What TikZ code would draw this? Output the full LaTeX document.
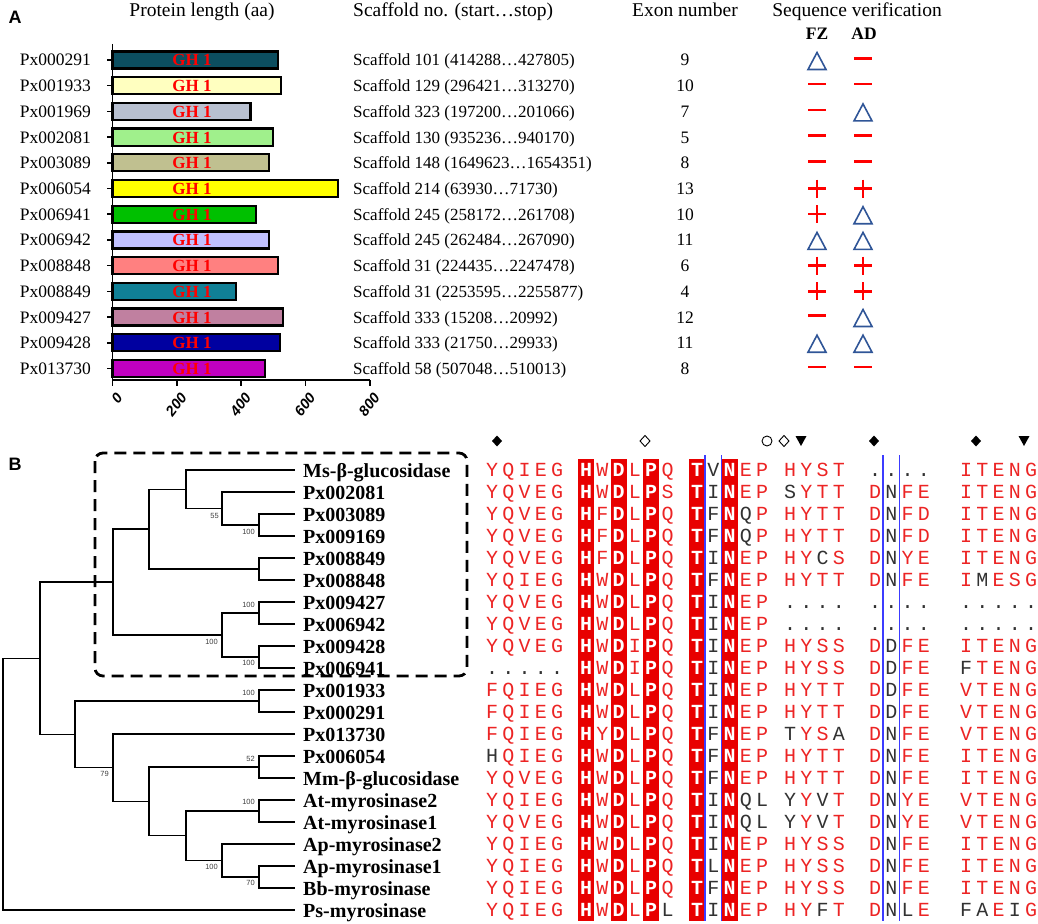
\documentclass[tikz,border=0pt]{standalone}
\usepackage{fontspec}
\setmainfont{Liberation Serif}
\setsansfont{Liberation Sans}
\newfontfamily\monof{Liberation Mono}
\definecolor{boxred}{RGB}{232,0,0}
\definecolor{resred}{RGB}{236,36,36}
\definecolor{resblk}{RGB}{50,50,50}
\definecolor{tblue}{RGB}{47,85,151}
\definecolor{alblue}{RGB}{60,60,255}
\definecolor{symred}{RGB}{255,0,0}
\definecolor{ca}{RGB}{12,78,96}
\definecolor{cb}{RGB}{255,255,192}
\definecolor{cc}{RGB}{184,192,208}
\definecolor{cd}{RGB}{160,240,140}
\definecolor{ce}{RGB}{192,192,144}
\definecolor{cf}{RGB}{255,255,0}
\definecolor{cg}{RGB}{0,192,0}
\definecolor{ch}{RGB}{192,192,255}
\definecolor{ci}{RGB}{255,128,128}
\definecolor{cj}{RGB}{16,128,150}
\definecolor{ck}{RGB}{192,128,160}
\definecolor{cl}{RGB}{0,0,160}
\definecolor{cm}{RGB}{192,0,192}
\tikzset{
 rowlab/.style={anchor=base east, inner sep=0pt, font=\fontsize{17.5}{20}\selectfont},
 hdr/.style={anchor=base, inner sep=0pt, font=\fontsize{19.5}{22}\selectfont},
 barbox/.style={draw=black, line width=2.2pt},
 ghlab/.style={text=red, font=\bfseries\fontsize{17}{20}\selectfont, inner sep=0pt, anchor=base},
 ticklab/.style={font=\sffamily\bfseries\itshape\fontsize{14.5}{16}\selectfont, rotate=52, anchor=east, inner sep=0pt},
 scaf/.style={anchor=base west, inner sep=0pt, font=\fontsize{17}{20}\selectfont},
 exon/.style={anchor=base, inner sep=0pt, font=\fontsize{17.5}{20}\selectfont},
 tri/.style={draw=tblue, line width=1.6pt, line join=miter},
 minus/.style={draw=symred, line width=2.4pt},
 leaflab/.style={anchor=base west, inner sep=0pt, font=\bfseries\fontsize{20}{22}\selectfont},
 boot/.style={anchor=east, inner sep=0pt, font=\sffamily\fontsize{7.5}{9}\selectfont, text=black!75},
 branch/.style={line width=1.3pt},
 res/.style={anchor=base, inner sep=0pt, font=\monof\fontsize{20}{22}\selectfont},
 wres/.style={anchor=base, inner sep=0pt, text=white, font=\monof\bfseries\fontsize{20}{22}\selectfont},
 panel/.style={font=\sffamily\bfseries\fontsize{18}{20}\selectfont, inner sep=0pt},
 hsym/.style={line width=0.9pt},
}
\newcommand\seqsym[3]{%
 \if#1t\draw[tri] (#2-9,#3+9.5) -- (#2+9,#3+9.5) -- (#2,#3-7.5) -- cycle;\fi
 \if#1m\draw[minus] (#2-9,#3-1.5) -- (#2+9,#3-1.5);\fi
 \if#1p\draw[minus] (#2-9,#3) -- (#2+9,#3) (#2,#3-9) -- (#2,#3+9);\fi}
\def\alx{{492,508.3,524.6,540.9,557.2,586,602.3,618.6,634.9,651.2,667.5,697,713.3,729.6,745.9,762.2,790,806.3,822.6,838.9,875,891.3,907.6,923.9,966,982.3,998.6,1014.9,1031.2}}
\newcommand\putres[5]{%
 \ifnum`#3=48 \else
 \ifnum`#3>96 \node[res,text=resblk] (r#5-#4) at (#1,#2) {\uppercase{#3}};%
 \else\ifnum`#3<65 \node[res,text=resblk] (r#5-#4) at (#1,#2) {#3};%
 \else \node[res,text=resred] (r#5-#4) at (#1,#2) {#3};%
 \fi\fi\fi}
\newcommand\alrow[2]{%
 \foreach \ch [count=\k] in {#2} {%
  \pgfmathsetmacro\xx{\alx[\k-1]}%
  \pgfmathsetmacro\yy{470+22*#1+6.5}%
  \edef\tmp{\noexpand\putres{\xx}{\yy}{\ch}{\k}{#1}}\tmp}}
\begin{document}
\begin{tikzpicture}[x=1pt,y=-1pt]
\useasboundingbox (0,0) rectangle (1038,923);
% ---------------- Panel A
\node[panel] (pA) at (15,17) {A};
\node[hdr] (h1) at (202,17) {Protein length (aa)};
\node[hdr,anchor=base west] (h2) at (353,17) {Scaffold no. (start…stop)};
\node[hdr] (h3) at (685,17) {Exon number};
\node[hdr] (h4) at (857,17) {Sequence verification};
\node[exon,font=\bfseries\fontsize{17.5}{20}\selectfont] (fz) at (817,40) {FZ};
\node[exon,font=\bfseries\fontsize{17.5}{20}\selectfont] (ad) at (864,40) {AD};
\foreach \nm/\len/\col/\sc/\ex [count=\i from 0] in {
 Px000291/515/ca/{Scaffold 101 (414288…427805)}/9,
 Px001933/524/cb/{Scaffold 129 (296421…313270)}/10,
 Px001969/429/cc/{Scaffold 323 (197200…201066)}/7,
 Px002081/498/cd/{Scaffold 130 (935236…940170)}/5,
 Px003089/487/ce/{Scaffold 148 (1649623…1654351)}/8,
 Px006054/702/cf/{Scaffold 214 (63930…71730)}/13,
 Px006941/447/cg/{Scaffold 245 (258172…261708)}/10,
 Px006942/486/ch/{Scaffold 245 (262484…267090)}/11,
 Px008848/515/ci/{Scaffold 31 (224435…2247478)}/6,
 Px008849/385/cj/{Scaffold 31 (2253595…2255877)}/4,
 Px009427/531/ck/{Scaffold 333 (15208…20992)}/12,
 Px009428/520/cl/{Scaffold 333 (21750…29933)}/11,
 Px013730/475/cm/{Scaffold 58 (507048…510013)}/8} {
 \pgfmathsetmacro\yy{60+25.7*\i}
 \pgfmathsetmacro\xe{112.5+0.3215*\len}
 \node[rowlab] (lab\i) at (91,\yy+6) {\nm};
 \draw[line width=1.6pt] (107,\yy) -- (112.5,\yy);
 \draw[barbox, fill=\col] (112.5,\yy-8.5) rectangle (\xe,\yy+8.5);
 \node[ghlab] (gh\i) at (192,\yy+6) {GH 1};
 \node[scaf] (sc\i) at (353,\yy+6) {\sc};
 \node[exon] (ex\i) at (685,\yy+6) {\ex};
}
\draw[line width=1.8pt] (112.5,44) -- (112.5,380) -- (370,380);
\foreach \v in {0,200,400,600,800} {
 \pgfmathsetmacro\xt{112.5+0.3215*\v}
 \draw[line width=1.6pt] (\xt,380) -- (\xt,386);
 \node[ticklab] (tk\v) at (\xt+7,395) {\v};
}
\foreach \f/\a [count=\i from 0] in {t/m,m/m,m/t,m/m,m/m,p/p,p/t,t/t,p/p,p/p,m/t,t/t,m/m} {
 \pgfmathsetmacro\yy{60+25.7*\i}
 \edef\tmp{\noexpand\seqsym{\f}{817}{\yy}\noexpand\seqsym{\a}{863}{\yy}}\tmp
}
% ---------------- Panel B : tree
\node[panel] (pB) at (15,464) {B};
\foreach \nm [count=\i from 0] in {Ms-β-glucosidase, Px002081, Px003089, Px009169, Px008849, Px008848, Px009427, Px006942, Px009428, Px006941, Px001933, Px000291, Px013730, Px006054, Mm-β-glucosidase, At-myrosinase2, At-myrosinase1, Ap-myrosinase2, Ap-myrosinase1, Bb-myrosinase, Ps-myrosinase} {
 \pgfmathsetmacro\yy{470+22*\i}
 \coordinate (l\i) at (295,\yy);
 \node[leaflab] (t\i) at (303,\yy+7) {\nm};
}
\coordinate (n3089) at (259,525);
\coordinate (n55) at (222,508.5);
\coordinate (nMs) at (186,489.25);
\coordinate (n8849) at (259,569);
\coordinate (nA) at (149,529.1);
\coordinate (n9427) at (259,613);
\coordinate (n9428) at (259,657);
\coordinate (nI) at (222,635);
\coordinate (nB) at (113,582);
\coordinate (n1933) at (259,701);
\coordinate (n6054) at (259,767);
\coordinate (nAt) at (259,811);
\coordinate (nApBb) at (259,877);
\coordinate (nH) at (222,860.5);
\coordinate (nG) at (186,835.75);
\coordinate (nF) at (149,801.4);
\coordinate (nE) at (113,767.7);
\coordinate (nD) at (75,734.35);
\coordinate (nC) at (40,658.2);
\coordinate (root) at (3,784);
\draw[branch] (root) |- (l20) (root) |- (nC)
 (nC) |- (nB) (nC) |- (nD)
 (nB) |- (nA) (nB) |- (nI)
 (nA) |- (nMs) (nA) |- (n8849)
 (nMs) |- (l0) (nMs) |- (n55)
 (n55) |- (l1) (n55) |- (n3089)
 (n3089) |- (l2) (n3089) |- (l3)
 (n8849) |- (l4) (n8849) |- (l5)
 (nI) |- (n9427) (nI) |- (n9428)
 (n9427) |- (l6) (n9427) |- (l7)
 (n9428) |- (l8) (n9428) |- (l9)
 (nD) |- (n1933) (nD) |- (nE)
 (n1933) |- (l10) (n1933) |- (l11)
 (nE) |- (l12) (nE) |- (nF)
 (nF) |- (n6054) (nF) |- (nG)
 (n6054) |- (l13) (n6054) |- (l14)
 (nG) |- (nAt) (nG) |- (nH)
 (nAt) |- (l15) (nAt) |- (l16)
 (nH) |- (l17) (nH) |- (nApBb)
 (nApBb) |- (l18) (nApBb) |- (l19);
\node[boot] (b1) at (219,516) {55};
\node[boot] (b2) at (255,532) {100};
\node[boot] (b3) at (255,605) {100};
\node[boot] (b4) at (255,663) {100};
\node[boot] (b5) at (218,642) {100};
\node[boot] (b6) at (255,693) {100};
\node[boot] (b7) at (109,774) {79};
\node[boot] (b8) at (255,759) {52};
\node[boot] (b9) at (255,802) {100};
\node[boot] (b10) at (218,867) {100};
\node[boot] (b11) at (255,883) {70};
\draw[line width=2.8pt, dash pattern=on 12pt off 7pt, rounded corners=8pt] (95,453) rectangle (467,676);
% ---------------- Panel B : alignment
\foreach \cx in {586,618.6,651.2,697,729.6} {
 \fill[boxred] (\cx-8,459) rectangle (\cx+8,921);
}
\foreach \r in {0,...,20} {
 \pgfmathsetmacro\yy{470+22*\r+6.5}
 \foreach \cx/\cl in {586/H,618.6/D,651.2/P,697/T,729.6/N} {
  \node[wres] (w\r-\cl) at (\cx,\yy) {\cl};
 }
}
\draw[alblue, line width=1.5pt] (705.2,455) -- (705.2,921) (721.5,455) -- (721.5,921)
 (883.2,455) -- (883.2,921) (899.4,455) -- (899.4,921);
\alrow{0}{Y,Q,I,E,G,0,W,0,L,0,Q,0,v,0,E,P,H,Y,S,T,.,.,.,.,I,T,E,N,G}
\alrow{1}{Y,Q,V,E,G,0,W,0,L,0,S,0,i,0,E,P,s,Y,T,T,D,n,F,E,I,T,E,N,G}
\alrow{2}{Y,Q,V,E,G,0,F,0,L,0,Q,0,f,0,q,P,H,Y,T,T,D,n,F,D,I,T,E,N,G}
\alrow{3}{Y,Q,V,E,G,0,F,0,L,0,Q,0,f,0,q,P,H,Y,T,T,D,n,F,D,I,T,E,N,G}
\alrow{4}{Y,Q,V,E,G,0,F,0,L,0,Q,0,i,0,E,P,H,Y,c,S,D,n,Y,E,I,T,E,N,G}
\alrow{5}{Y,Q,I,E,G,0,W,0,L,0,Q,0,f,0,E,P,H,Y,T,T,D,n,F,E,I,m,E,S,G}
\alrow{6}{Y,Q,V,E,G,0,W,0,L,0,Q,0,i,0,E,P,.,.,.,.,.,.,.,.,.,.,.,.,.}
\alrow{7}{Y,Q,V,E,G,0,W,0,L,0,Q,0,i,0,E,P,.,.,.,.,.,.,.,.,.,.,.,.,.}
\alrow{8}{Y,Q,V,E,G,0,W,0,I,0,Q,0,i,0,E,P,H,Y,S,S,D,d,F,E,I,T,E,N,G}
\alrow{9}{.,.,.,.,.,0,W,0,I,0,Q,0,i,0,E,P,H,Y,S,S,D,d,F,E,f,T,E,N,G}
\alrow{10}{F,Q,I,E,G,0,W,0,L,0,Q,0,i,0,E,P,H,Y,T,T,D,d,F,E,V,T,E,N,G}
\alrow{11}{F,Q,I,E,G,0,W,0,L,0,Q,0,i,0,E,P,H,Y,T,T,D,d,F,E,V,T,E,N,G}
\alrow{12}{F,Q,I,E,G,0,Y,0,L,0,Q,0,f,0,E,P,t,Y,S,a,D,n,F,E,V,T,E,N,G}
\alrow{13}{h,Q,I,E,G,0,W,0,L,0,Q,0,f,0,E,P,H,Y,T,T,D,n,F,E,I,T,E,N,G}
\alrow{14}{Y,Q,V,E,G,0,W,0,L,0,Q,0,f,0,E,P,H,Y,T,T,D,n,F,E,I,T,E,N,G}
\alrow{15}{Y,Q,I,E,G,0,W,0,L,0,Q,0,i,0,q,l,y,Y,v,T,D,n,Y,E,V,T,E,N,G}
\alrow{16}{Y,Q,V,E,G,0,W,0,L,0,Q,0,i,0,q,l,y,Y,v,T,D,n,Y,E,V,T,E,N,G}
\alrow{17}{Y,Q,I,E,G,0,W,0,L,0,Q,0,i,0,E,P,H,Y,S,S,D,n,F,E,I,T,E,N,G}
\alrow{18}{Y,Q,I,E,G,0,W,0,L,0,Q,0,l,0,E,P,H,Y,S,S,D,n,F,E,I,T,E,N,G}
\alrow{19}{Y,Q,I,E,G,0,W,0,L,0,Q,0,f,0,E,P,H,Y,S,S,D,n,F,E,I,T,E,N,G}
\alrow{20}{Y,Q,I,E,G,0,W,0,L,0,l,0,i,0,E,P,H,Y,f,T,D,n,l,E,f,a,E,i,G}
% header symbols
\fill (497,435.5) -- (502,441) -- (497,446.5) -- (492,441) -- cycle;
\draw[hsym] (645,435.5) -- (650,441) -- (645,446.5) -- (640,441) -- cycle;
\draw[hsym] (767,441) circle (5);
\draw[hsym] (784,435.5) -- (789,441) -- (784,446.5) -- (779,441) -- cycle;
\fill (795.5,436) -- (806.5,436) -- (801,446) -- cycle;
\fill (874,435.5) -- (879,441) -- (874,446.5) -- (869,441) -- cycle;
\fill (976,435.5) -- (981,441) -- (976,446.5) -- (971,441) -- cycle;
\fill (1018.5,436) -- (1029.5,436) -- (1024,446) -- cycle;
\end{tikzpicture}
\end{document}
